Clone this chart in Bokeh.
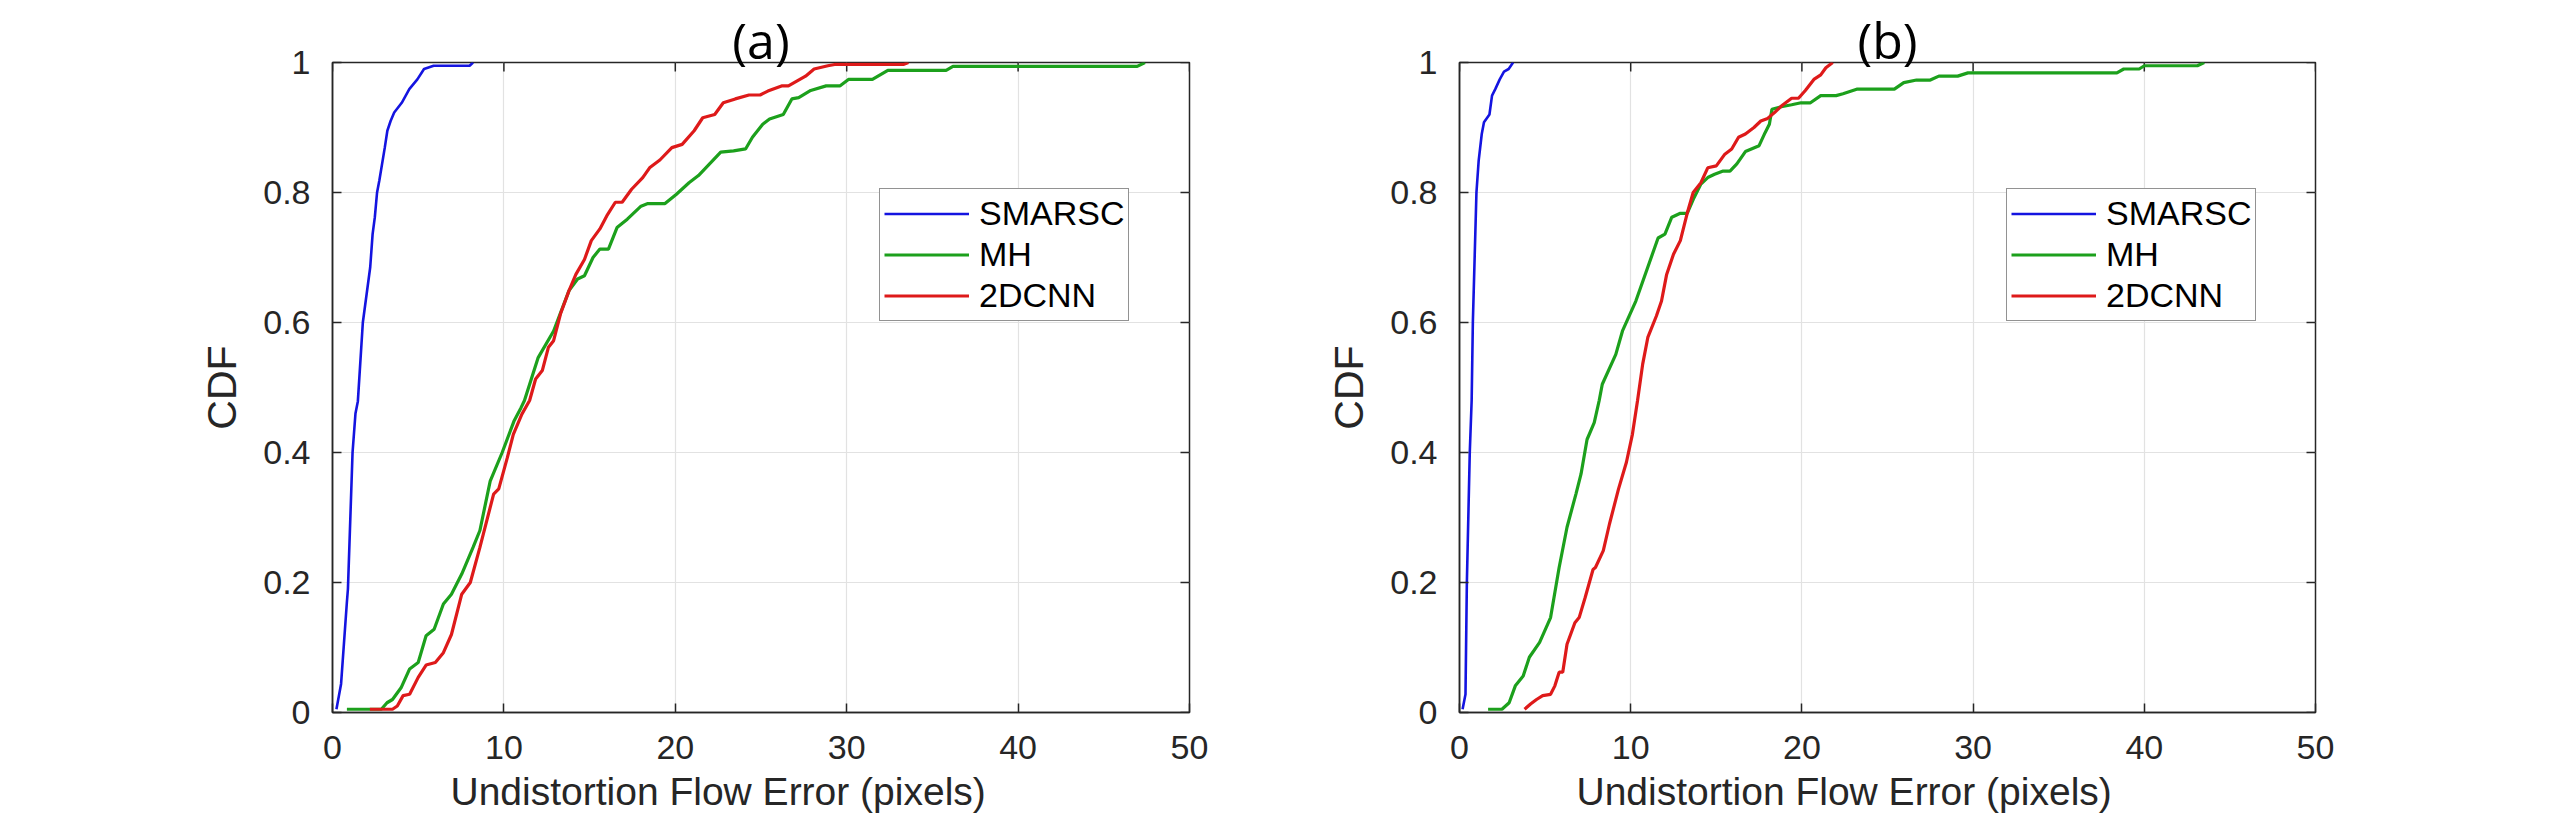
import math
from bokeh.plotting import figure
from bokeh.models import (Range1d, FixedTicker, CustomJSTickFormatter,
                          Legend, LegendItem, Title)
from bokeh.layouts import row
from bokeh.embed import file_html
from bokeh.resources import INLINE

# ---------------- data ----------------
series_names = ["SMARSC", "MH", "2DCNN"]
panel_titles = ["(a)", "(b)"]
x_label = "Undistortion Flow Error (pixels)"
y_label = "CDF"
x_ticks = [0, 10, 20, 30, 40, 50]
y_ticks = [0, 0.2, 0.4, 0.6, 0.8, 1]

# panel (a)
a_smarsc_x = [0.23, 0.5, 0.84, 0.9, 1.17, 1.34, 1.48, 1.77, 2.2, 2.34, 2.47, 2.6, 2.73, 3.05, 3.2,
              3.39, 3.6, 4.04, 4.48, 4.95, 5.34, 5.9, 8.0, 8.2]
a_smarsc_y = [0.005, 0.044, 0.17, 0.19, 0.4, 0.46, 0.479, 0.6, 0.685, 0.736, 0.762, 0.8, 0.818, 0.869,
              0.895, 0.91, 0.923, 0.938, 0.959, 0.974, 0.99, 0.995, 0.995, 1.0]

a_mh_x = [0.84, 2.85, 3.18, 3.5, 4.0, 4.5, 5.0, 5.46, 5.93, 6.47, 6.94, 7.54, 8.2, 8.6, 9.2, 9.9,
          10.6, 11.0, 11.2, 12.0, 12.9, 13.8, 14.3, 14.7, 15.2, 15.6, 16.1, 16.6, 17.2, 18.0, 18.4,
          19.4, 20.05, 20.8, 21.35, 22.0, 22.65, 23.4, 24.1, 24.5, 25.1, 25.5, 26.3, 26.8, 27.2,
          27.9, 28.8, 29.6, 30.1, 31.5, 32.4, 35.8, 36.2, 46.95, 47.4]
a_mh_y = [0.005, 0.005, 0.015, 0.02, 0.038, 0.067, 0.077, 0.118, 0.128, 0.167, 0.182, 0.213, 0.254,
          0.28, 0.356, 0.4, 0.449, 0.469, 0.48, 0.546, 0.587, 0.649, 0.667, 0.672, 0.7, 0.713, 0.713,
          0.746, 0.759, 0.779, 0.783, 0.783, 0.797, 0.815, 0.826, 0.844, 0.862, 0.864, 0.867, 0.885,
          0.905, 0.913, 0.92, 0.944, 0.946, 0.957, 0.964, 0.964, 0.974, 0.974, 0.988, 0.988, 0.994,
          0.994, 1.0]

a_cnn_x = [2.18, 3.5, 3.78, 4.12, 4.5, 5.0, 5.46, 6.0, 6.47, 6.94, 7.54, 8.04, 8.6, 9.4, 9.7, 10.2,
           10.55, 11.05, 11.5, 11.85, 12.24, 12.6, 12.9, 13.3, 13.8, 14.2, 14.7, 15.1, 15.6, 16.0,
           16.5, 16.9, 17.45, 18.1, 18.5, 19.1, 19.8, 20.4, 21.1, 21.6, 22.3, 22.8, 23.5, 24.3,
           24.95, 25.4, 26.2, 26.6, 27.6, 28.1, 28.9, 29.3, 33.3, 33.6]
a_cnn_y = [0.005, 0.005, 0.01, 0.026, 0.028, 0.054, 0.073, 0.077, 0.092, 0.12, 0.182, 0.2, 0.254,
           0.336, 0.344, 0.392, 0.428, 0.459, 0.48, 0.513, 0.526, 0.562, 0.572, 0.613, 0.649, 0.674,
           0.697, 0.726, 0.744, 0.764, 0.785, 0.785, 0.805, 0.823, 0.838, 0.85, 0.869, 0.874, 0.895,
           0.915, 0.92, 0.938, 0.944, 0.95, 0.95, 0.956, 0.964, 0.964, 0.979, 0.99, 0.995, 0.997,
           0.997, 1.0]

# panel (b)
b_smarsc_x = [0.18, 0.35, 0.43, 0.6, 0.71, 0.78, 0.99, 1.12, 1.3, 1.43, 1.75, 1.9, 2.09, 2.35, 2.6,
              2.87, 3.13]
b_smarsc_y = [0.005, 0.028, 0.2, 0.4, 0.48, 0.6, 0.8, 0.849, 0.89, 0.908, 0.92, 0.949, 0.959, 0.974,
              0.986, 0.99, 1.0]

b_mh_x = [1.67, 2.48, 2.9, 3.26, 3.72, 4.08, 4.68, 5.32, 5.82, 6.28, 6.8, 7.1, 7.45, 7.87, 8.16,
          8.34, 9.13, 9.52, 10.3, 11.6, 12.0, 12.4, 12.9, 13.3, 13.7, 14.1, 14.5, 14.9, 15.4, 15.8,
          16.2, 16.7, 17.5, 17.85, 18.1, 18.25, 18.8, 19.4, 19.95, 20.5, 21.1, 22.0, 22.4, 23.2,
          25.4, 25.95, 26.7, 27.5, 28.0, 29.1, 29.7, 38.4, 38.8, 39.7, 40.0, 43.1, 43.5]
b_mh_y = [0.005, 0.005, 0.015, 0.041, 0.056, 0.085, 0.108, 0.146, 0.223, 0.285, 0.336, 0.367, 0.42,
          0.446, 0.48, 0.505, 0.551, 0.587, 0.633, 0.73, 0.736, 0.762, 0.768, 0.768, 0.792, 0.813,
          0.823, 0.828, 0.833, 0.833, 0.844, 0.863, 0.872, 0.892, 0.905, 0.928, 0.932, 0.935, 0.938,
          0.938, 0.949, 0.949, 0.952, 0.959, 0.959, 0.969, 0.973, 0.973, 0.979, 0.979, 0.984, 0.984,
          0.99, 0.99, 0.995, 0.995, 1.0]

b_cnn_x = [3.8, 4.15, 4.5, 4.86, 5.32, 5.57, 5.82, 6.03, 6.28, 6.74, 6.99, 7.34, 7.8, 7.94, 8.4,
           8.76, 9.29, 9.75, 10.1, 10.4, 10.7, 11.0, 11.5, 11.8, 12.1, 12.5, 12.9, 13.3, 13.65, 14.1,
           14.5, 15.0, 15.5, 15.9, 16.3, 16.7, 17.2, 17.6, 18.0, 18.4, 18.8, 19.4, 19.8, 20.2, 20.7,
           21.1, 21.4, 21.8]
b_cnn_y = [0.005, 0.013, 0.02, 0.026, 0.028, 0.041, 0.062, 0.062, 0.105, 0.138, 0.146, 0.177, 0.22,
           0.223, 0.249, 0.29, 0.344, 0.385, 0.428, 0.48, 0.536, 0.577, 0.61, 0.633, 0.674, 0.705,
           0.726, 0.768, 0.8, 0.815, 0.838, 0.841, 0.859, 0.867, 0.885, 0.89, 0.9, 0.91, 0.914, 0.923,
           0.933, 0.945, 0.945, 0.957, 0.974, 0.981, 0.992, 1.0]

# ---------------- styling ----------------
COLORS = ["#1414e0", "#1ca01c", "#de1a1a"]
WIDTHS = [2.6, 3.2, 3.2]
AX = "#262626"
GRID = "#e2e2e2"
FONT = "Liberation Sans"


def style_axis(ax, ticks, standoff):
    ax.ticker = FixedTicker(ticks=ticks)
    ax.formatter = CustomJSTickFormatter(code="return String(tick);")
    ax.axis_line_color = AX
    ax.axis_line_width = 1.5
    ax.major_tick_line_color = AX
    ax.major_tick_line_width = 1.5
    ax.major_tick_in = 9
    ax.major_tick_out = 0
    ax.minor_tick_line_color = None
    ax.major_label_text_font = FONT
    ax.major_label_text_font_size = "34px"
    ax.major_label_text_color = AX
    ax.major_label_standoff = standoff
    ax.axis_label_text_font = FONT
    ax.axis_label_text_font_style = "normal"
    ax.axis_label_text_color = AX


def make_panel(title, xs, ys, min_left, min_right, width, xlabel_offset):
    p = figure(width=width, height=820, x_range=Range1d(0, 50), y_range=Range1d(0, 1),
               output_backend="svg", toolbar_location=None, title=title,
               min_border_left=min_left, min_border_right=min_right,
               min_border_top=62, min_border_bottom=108)
    p.outline_line_color = AX
    p.outline_line_width = 1.5
    p.background_fill_color = "white"
    p.border_fill_color = "white"

    p.title.align = "center"
    p.title.text_font = "Open Sans"
    p.title.text_font_size = "50px"
    p.title.text_font_style = "normal"
    p.title.text_color = "black"
    p.title.standoff = -22

    style_axis(p.xaxis[0], x_ticks, 23)
    style_axis(p.yaxis[0], y_ticks, 22)
    p.yaxis[0].axis_label = y_label
    p.yaxis[0].axis_label_text_font_size = "41px"
    p.yaxis[0].axis_label_standoff = 15

    # x-axis caption, slightly left of centre as in the original figure
    xcap = Title(text=x_label, align="left", offset=xlabel_offset, standoff=12,
                 text_font=FONT, text_font_size="39px", text_font_style="normal",
                 text_color=AX)
    p.add_layout(xcap, "below")

    p.xgrid.ticker = FixedTicker(ticks=x_ticks)
    p.ygrid.ticker = FixedTicker(ticks=y_ticks)
    for g in (p.xgrid[0], p.ygrid[0]):
        g.grid_line_color = GRID
        g.grid_line_width = 1.2

    # inward tick marks on the top and right sides of the box (clipped to the frame)
    p.scatter(x=x_ticks, y=[y_ticks[-1]] * len(x_ticks), marker="dash", angle=math.pi / 2,
              size=18, line_color=AX, line_width=1.5)
    p.scatter(x=[x_ticks[-1]] * len(y_ticks), y=y_ticks, marker="dash",
              size=18, line_color=AX, line_width=1.5)

    items = []
    for name, x, y, c, w in zip(series_names, xs, ys, COLORS, WIDTHS):
        r = p.line(x, y, line_color=c, line_width=w)
        items.append(LegendItem(label=name, renderers=[r]))

    leg = Legend(items=items, location=(547, 391))
    leg.label_text_font = FONT
    leg.label_text_font_size = "34px"
    leg.label_text_color = "black"
    leg.border_line_color = AX
    leg.border_line_width = 1.5
    leg.background_fill_color = "white"
    leg.background_fill_alpha = 1.0
    leg.padding = 4
    leg.spacing = 0
    leg.margin = 0
    leg.glyph_width = 85
    leg.glyph_height = 41
    leg.label_height = 41
    leg.label_standoff = 10
    p.add_layout(leg)
    return p


p1 = make_panel(panel_titles[0],
                [a_smarsc_x, a_mh_x, a_cnn_x], [a_smarsc_y, a_mh_y, a_cnn_y],
                min_left=332, min_right=131, width=1320, xlabel_offset=118)
p2 = make_panel(panel_titles[1],
                [b_smarsc_x, b_mh_x, b_cnn_x], [b_smarsc_y, b_mh_y, b_cnn_y],
                min_left=139, min_right=200, width=1195, xlabel_offset=117)

layout = row(p1, p2, spacing=0)
open("out.html", "w").write(file_html(layout, INLINE))
